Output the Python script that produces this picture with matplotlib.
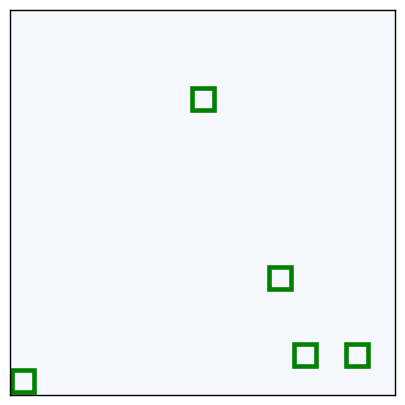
import matplotlib
matplotlib.use("Agg")
import matplotlib.pyplot as plt

x_vals = [0.5, 7.5, 10.5, 11.5, 13.5]
y_vals = [0.55, 11.55, 4.55, 1.55, 1.55]

fig = plt.figure(figsize=(4.05, 4.05), dpi=100)
ax = fig.add_axes([10/405, 10/405, 385/405, 385/405])
ax.set_facecolor('#f5f9ff')
ax.plot(x_vals, y_vals, linestyle='none', marker='s', markersize=16,
        markerfacecolor='none', markeredgecolor='green', markeredgewidth=3.3,
        clip_on=False)
ax.set_xlim(0, 15)
ax.set_ylim(0, 15)
ax.set_xticks([])
ax.set_yticks([])
for s in ax.spines.values():
    s.set_linewidth(1.0)
fig.savefig('out.png', dpi=100)
